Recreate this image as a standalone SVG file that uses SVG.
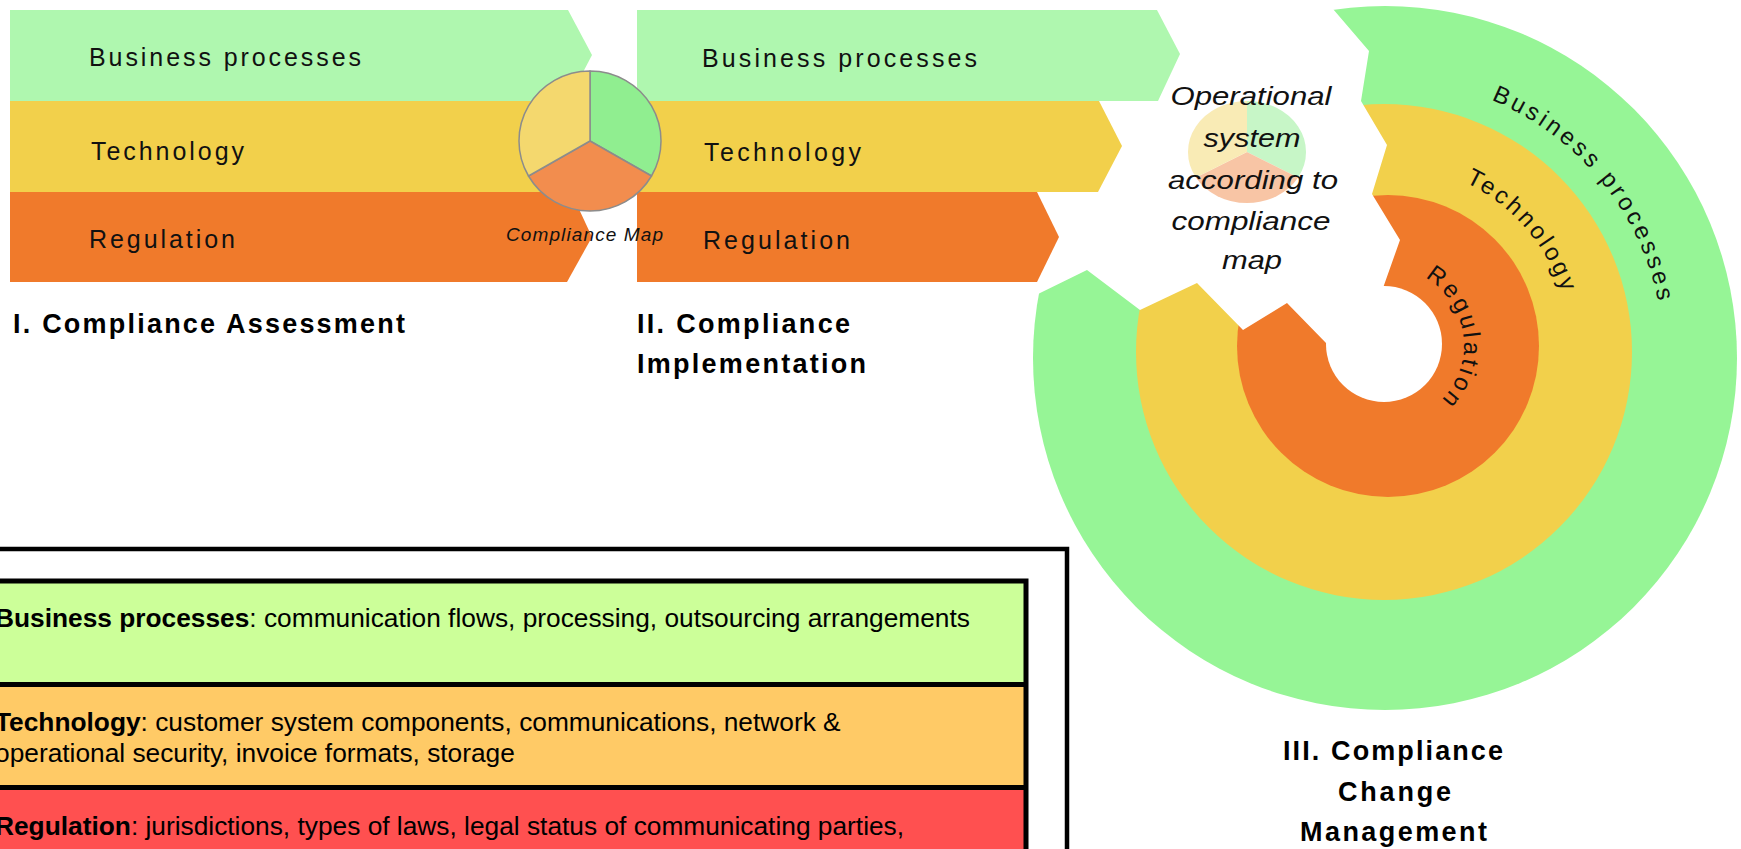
<svg xmlns="http://www.w3.org/2000/svg" width="1741" height="849" viewBox="0 0 1741 849">
<style>
.t{font-family:"Liberation Sans",Arial,sans-serif;fill:#111}
.band{font-size:25px}
.title{font-size:27px;font-weight:bold;fill:#000}
.ital{font-style:italic}
.op{font-size:26px;text-anchor:middle}
.ring{font-size:24px}
.leg{font-size:26.3px;fill:#000}
.bg{fill:#AFF7AF}.by{fill:#F2D04B}.bo{fill:#F07A2B}
.rg{fill:#96F596}
.box{fill:none;stroke:#000;stroke-width:5}
</style>
<defs>
<path id="arcBP" d="M1491.3,100 A279,279 0 0 1 1663,333.7"/>
<path id="arcTE" d="M1465.2,182.4 A188,188 0 0 1 1569.1,384.6"/>
<path id="arcRE" d="M1425,277.5 A78,78 0 0 1 1386,423"/>
</defs>
<rect width="1741" height="849" fill="#fff"/>

<g id="stage3-rings">
<circle cx="1385" cy="358" r="352" class="rg"/>
<circle cx="1384" cy="352" r="248" class="by"/>
<circle cx="1388" cy="346" r="151" class="bo"/>
<circle cx="1384" cy="344" r="58" fill="#fff"/>
<polygon fill="#fff" points="1325,-10 1333,9 1369,51 1361,101 1387,145 1372,194 1400,240 1383,288 1384,344 1326,343 1287,303 1243,330 1197,283 1140,310 1087,270 1036,295 990,320 990,-10"/>
<text class="t ring"><textPath href="#arcBP" textLength="272" lengthAdjust="spacing">Business processes</textPath></text>
<text class="t ring"><textPath href="#arcTE" textLength="150" lengthAdjust="spacing">Technology</textPath></text>
<text class="t ring"><textPath href="#arcRE" textLength="142" lengthAdjust="spacing">Regulation</textPath></text>
</g>

<g id="operational-system" opacity="1">
<g opacity="0.5">
<path d="M1247,152 L1247,101 A59,51 0 0 1 1298.1,177.5 Z" fill="#90EE90"/>
<path d="M1247,152 L1298.1,177.5 A59,51 0 0 1 1195.9,177.5 Z" fill="#F28D4E"/>
<path d="M1247,152 L1195.9,177.5 A59,51 0 0 1 1247,101 Z" fill="#F4D86E"/>
</g>
<text class="t op ital" x="1251" y="105" textLength="161" lengthAdjust="spacingAndGlyphs">Operational</text>
<text class="t op ital" x="1252" y="147" textLength="97" lengthAdjust="spacingAndGlyphs">system</text>
<text class="t op ital" x="1253" y="189" textLength="170" lengthAdjust="spacingAndGlyphs">according to</text>
<text class="t op ital" x="1251" y="230" textLength="159" lengthAdjust="spacingAndGlyphs">compliance</text>
<text class="t op ital" x="1252" y="269" textLength="60" lengthAdjust="spacingAndGlyphs">map</text>
</g>

<g id="stage2-bands">
<polygon class="bg" points="637,10 1157,10 1180,54 1158,101 637,101"/>
<polygon class="by" points="637,101 1099,101 1122,146 1098,192 637,192"/>
<polygon class="bo" points="637,192 1037,192 1059,237 1037,282 637,282"/>
<text class="t band" x="702" y="67" textLength="275" lengthAdjust="spacing">Business processes</text>
<text class="t band" x="704" y="161" textLength="157" lengthAdjust="spacing">Technology</text>
<text class="t band" x="703" y="249" textLength="147" lengthAdjust="spacing">Regulation</text>
</g>

<g id="stage1-bands">
<polygon class="bg" points="10,10 568,10 592,55 568,101 10,101"/>
<polygon class="by" points="10,101 568,101 592,146 568,192 10,192"/>
<polygon class="bo" points="10,192 571,192 592,237 567,282 10,282"/>
<text class="t band" x="89" y="66" textLength="272" lengthAdjust="spacing">Business processes</text>
<text class="t band" x="91" y="160" textLength="153" lengthAdjust="spacing">Technology</text>
<text class="t band" x="89" y="248" textLength="146" lengthAdjust="spacing">Regulation</text>
</g>

<g id="compliance-map">
<g stroke="#8C8C8C" stroke-width="1.5" stroke-linejoin="round">
<path d="M590,141 L590,71 A71,70 0 0 1 651.5,176 Z" fill="#90EE90"/>
<path d="M590,141 L651.5,176 A71,70 0 0 1 528.5,176 Z" fill="#F28D4E"/>
<path d="M590,141 L528.5,176 A71,70 0 0 1 590,71 Z" fill="#F4D86E"/>
</g>
<text class="t ital" x="506" y="241" font-size="19" textLength="157" lengthAdjust="spacing">Compliance Map</text>
</g>

<g id="titles">
<text class="t title" x="13" y="333" textLength="392" lengthAdjust="spacing">I. Compliance Assessment</text>
<text class="t title" x="637" y="333" textLength="213" lengthAdjust="spacing">II. Compliance</text>
<text class="t title" x="637" y="373" textLength="229" lengthAdjust="spacing">Implementation</text>
<text class="t title" x="1283" y="760" textLength="220" lengthAdjust="spacing">III. Compliance</text>
<text class="t title" x="1338" y="801" textLength="113" lengthAdjust="spacing">Change</text>
<text class="t title" x="1300" y="841" textLength="187" lengthAdjust="spacing">Management</text>
</g>

<g id="legend">
<rect x="-20" y="549" width="1087" height="340" fill="#fff" stroke="#000" stroke-width="4.5"/>
<rect x="-20" y="581" width="1046" height="103" fill="#CCFF99"/>
<rect x="-20" y="684" width="1046" height="103" fill="#FFCA66"/>
<rect x="-20" y="787" width="1046" height="90" fill="#FF5050"/>
<rect x="-20" y="581" width="1046" height="300" class="box"/>
<line x1="-20" y1="684.5" x2="1026" y2="684.5" stroke="#000" stroke-width="5"/>
<line x1="-20" y1="787.5" x2="1026" y2="787.5" stroke="#000" stroke-width="5"/>
<text class="t leg" x="-5" y="627"><tspan font-weight="bold">Business processes</tspan>: communication flows, processing, outsourcing arrangements</text>
<text class="t leg" x="-5" y="731"><tspan font-weight="bold">Technology</tspan>: customer system components, communications, network &amp;</text>
<text class="t leg" x="-5" y="762">operational security, invoice formats, storage</text>
<text class="t leg" x="-5" y="835"><tspan font-weight="bold">Regulation</tspan>: jurisdictions, types of laws, legal status of communicating parties,</text>
</g>
</svg>
